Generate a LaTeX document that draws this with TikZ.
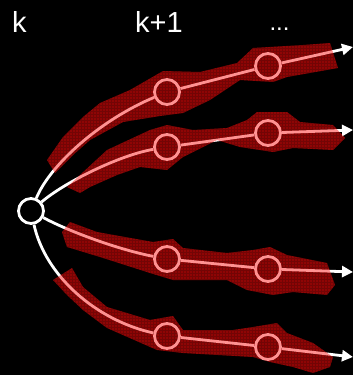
\documentclass[tikz,border=0pt]{standalone}
\usepackage{fontspec}
\setmainfont{Liberation Sans}
\usetikzlibrary{arrows.meta,patterns}
\definecolor{bandred}{rgb}{1,0.05,0.05}
\definecolor{bandbase}{rgb}{0.2,0,0}
\begin{document}
\begin{tikzpicture}[x=1pt,y=-1pt,
  state/.style={circle,draw=white,line width=2.8pt,minimum size=25pt,inner sep=0pt},
  link/.style={draw=white,line width=2.8pt},
  arr/.style={link,-{Triangle[length=11pt,width=11pt]}},
  label/.style={text=white,font=\fontsize{29}{32}\selectfont,anchor=base},
  bandbg/.style={fill=bandbase},
  bandpat/.style={pattern=grid,pattern color=black},
  band/.style={fill=bandred,fill opacity=0.45}]
\fill[black] (0,0) rectangle (353,375);
\useasboundingbox (0,0) rectangle (353,375);
% band outlines
\def\bandone{(47,160)--(63,137)--(83,117)--(100,103)--(130,90)--(163,71)--(200,72)--(237,63)--(253,48)--(303,45)--(330,43)--(338,68)--(287,77)--(273,82)--(240,80)--(210,100)--(183,113)--(160,116)--(123,122)--(90,140)--(73,155)--(55,173)--cycle}
\def\bandtwo{(67,187)--(107,150)--(150,130)--(167,125)--(193,130)--(227,128)--(247,120)--(257,112)--(287,112)--(300,122)--(333,125)--(345,138)--(333,150)--(293,148)--(273,152)--(240,147)--(217,140)--(183,157)--(167,170)--(140,167)--(117,175)--(90,187)--(80,193)--cycle}
\def\bandthree{(70,222)--(97,232)--(153,242)--(173,239)--(183,248)--(227,253)--(253,250)--(270,247)--(287,255)--(327,263)--(335,285)--(327,295)--(293,292)--(273,295)--(247,290)--(227,280)--(173,280)--(150,273)--(100,257)--(67,247)--(62,232)--cycle}
\def\bandfour{(72,268)--(83,287)--(107,307)--(150,320)--(173,316)--(183,330)--(233,330)--(253,327)--(277,323)--(287,333)--(313,343)--(333,357)--(330,367)--(313,373)--(293,367)--(270,362)--(253,357)--(183,353)--(157,350)--(107,328)--(83,310)--(67,295)--(53,280)--cycle}
\foreach \b in {\bandone,\bandtwo,\bandthree,\bandfour}{
  \fill[bandbg] \b;
  \fill[bandpat] \b;
}
% labels
\node[label] (lk) at (19.5,32) {k};
\node[label] (lk1) at (159,32) {k+1};
\node[label,font=\fontsize{24}{28}\selectfont] (ldots) at (279.5,30) {...};
% nodes
\node[state] (r) at (31,211) {};
\node[state] (a1) at (167,92) {};
\node[state] (a2) at (167,147) {};
\node[state] (a3) at (167,259) {};
\node[state] (a4) at (167,336) {};
\node[state] (b1) at (268,66) {};
\node[state] (b2) at (268,133) {};
\node[state] (b3) at (268,269) {};
\node[state] (b4) at (268,347) {};
\coordinate (e1) at (353,47);
\coordinate (e2) at (353,130);
\coordinate (e3) at (353,272);
\coordinate (e4) at (353,357);
% edges
\draw[link] (r) .. controls (50,165) and (100,120) .. (a1);
\draw[link] (r) .. controls (65,182) and (120,155) .. (a2);
\draw[link] (r) .. controls (70,232) and (120,250) .. (a3);
\draw[link] (r) .. controls (45,275) and (95,320) .. (a4);
\draw[link] (a1) -- (b1);
\draw[link] (a2) -- (b2);
\draw[link] (a3) -- (b3);
\draw[link] (a4) -- (b4);
\draw[arr] (b1) -- (e1);
\draw[arr] (b2) -- (e2);
\draw[arr] (b3) -- (e3);
\draw[arr] (b4) -- (e4);
% translucent highlight over the paths
\foreach \b in {\bandone,\bandtwo,\bandthree,\bandfour}{
  \fill[band] \b;
}
\end{tikzpicture}
\end{document}
